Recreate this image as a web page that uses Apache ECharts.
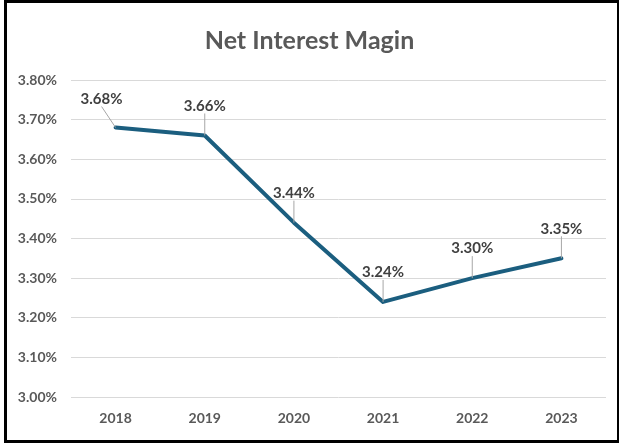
<!DOCTYPE html>
<html><head><meta charset="utf-8">
<script src="https://cdn.jsdelivr.net/npm/echarts@6/dist/echarts.min.js"></script>
<style>
html,body{margin:0;padding:0;background:#fff;}
#frame{position:absolute;left:4px;top:0;width:610px;height:437px;border:3px solid #000;}
#c{position:absolute;left:0;top:0;width:619px;height:443px;}
</style></head>
<body>
<div id="frame"></div>
<div id="c"></div>
<script>
const titleText = 'Net Interest Magin';
const categories = ['2018','2019','2020','2021','2022','2023'];
const nimValues = [3.68, 3.66, 3.44, 3.24, 3.30, 3.35];
const yTicks = [3.00, 3.10, 3.20, 3.30, 3.40, 3.50, 3.60, 3.70, 3.80];

const FONT = 'Lato, "Open Sans", sans-serif';
const chart = echarts.init(document.getElementById('c'), null, {renderer:'canvas'});
chart.setOption({
  backgroundColor: 'transparent',
  animation: false,
  title: {
    text: titleText, left: 'center', top: 23,
    textStyle: {fontFamily: FONT, fontSize: 25, fontWeight: 'bold', color: '#595959'}
  },
  grid: {left: 71, right: 13, top: 80, bottom: 46, containLabel: false},
  xAxis: {
    type: 'category', data: categories, boundaryGap: true,
    axisLine: {show: false}, axisTick: {show: false},
    axisLabel: {fontFamily: FONT, fontSize: 14, fontWeight: 'bold', color: '#595959', margin: 14}
  },
  yAxis: {
    type: 'value', min: yTicks[0], max: yTicks[yTicks.length-1], interval: 0.1,
    axisLine: {show: false}, axisTick: {show: false},
    splitLine: {lineStyle: {color: '#d9d9d9', width: 1}},
    axisLabel: {fontFamily: FONT, fontSize: 14, fontWeight: 'bold', color: '#595959', margin: 14,
      formatter: v => v.toFixed(2) + '%'}
  },
  series: [{
    type: 'line', data: nimValues, showSymbol: true, symbol: 'circle', symbolSize: 0.01,
    itemStyle: {color: '#1b5e7f'},
    lineStyle: {color: '#1b5e7f', width: 4, cap: 'round', join: 'round'},
    label: {show: true, position: 'top', distance: 4, opacity: 1,
      fontFamily: FONT, fontSize: 15, fontWeight: 'bold', color: '#404040',
      formatter: p => p.value.toFixed(2) + '%'},
    labelLayout: p => p.dataIndex === 0 ? {dx: -14, dy: -17} : {dy: -18},
    labelLine: {show: true, lineStyle: {color: '#a6a6a6', width: 1}}
  }]
});
</script>
</body></html>
